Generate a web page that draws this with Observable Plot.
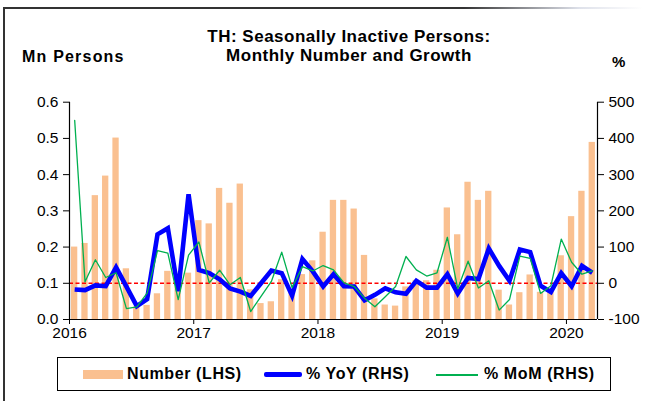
<!DOCTYPE html>
<html>
<head>
<meta charset="utf-8">
<script src="https://cdn.jsdelivr.net/npm/d3@7"></script>
<script src="https://cdn.jsdelivr.net/npm/@observablehq/plot@0.6"></script>
<style>
  html, body { margin: 0; padding: 0; background: #fff; }
  #wrap { position: relative; width: 649px; height: 401px; overflow: hidden; font-family: "Liberation Sans", Arial, sans-serif; color: #000; }
  #wrap svg.plot { position: absolute; left: 0; top: 0; }
  .t { position: absolute; white-space: nowrap; font-weight: bold; }
  #frameL { position: absolute; left: 3px; top: 7px; width: 2px; height: 400px; background: #333; }
  #frameT { position: absolute; left: 3px; top: 7px; width: 640px; height: 2px; background: linear-gradient(to right, #333 0%, #333 72%, rgba(200,205,220,0.6) 90%, rgba(255,255,255,0) 100%); }
  #legend { position: absolute; left: 57px; top: 357px; width: 554px; height: 34px; border: 1px solid #000; box-sizing: border-box; }
  .lt { position: absolute; top: 7px; font-size: 16px; font-weight: bold; letter-spacing: 0.6px; white-space: nowrap; }
</style>
</head>
<body>
<div id="wrap">
  <div id="frameL"></div>
  <div id="frameT"></div>
  <div class="t" style="left:0;width:698px;text-align:center;top:27px;font-size:17px;letter-spacing:0.5px;line-height:19px;">TH: Seasonally Inactive Persons:<br>Monthly Number and Growth</div>
  <div class="t" style="left:22px;top:48px;font-size:16px;letter-spacing:1.2px;">Mn Persons</div>
  <div class="t" style="left:612px;top:53px;font-size:15px;">%</div>
  <div id="legend">
    <div style="position:absolute;left:25px;top:12px;width:40px;height:9px;background:#FAC090;"></div>
    <div class="lt" style="left:69px;">Number (LHS)</div>
    <div style="position:absolute;left:206px;top:14px;width:38px;height:5px;background:#0000FF;border-radius:2px;"></div>
    <div class="lt" style="left:248px;">% YoY (RHS)</div>
    <div style="position:absolute;left:378px;top:16px;width:42px;height:1.5px;background:#00B050;"></div>
    <div class="lt" style="left:426px;">% MoM (RHS)</div>
  </div>
</div>
<script>
// Monthly data, Jan 2016 .. Mar 2020
const yearLabels = ["2016", "2017", "2018", "2019", "2020"];
const number = [
  0.200, 0.210, 0.342, 0.396, 0.501, 0.140, 0.034, 0.039, 0.071, 0.133, 0.090, 0.128,
  0.273, 0.264, 0.362, 0.321, 0.374, 0.082, 0.044, 0.049, 0.110, 0.080, 0.124, 0.162,
  0.241, 0.329, 0.329, 0.305, 0.177, 0.057, 0.040, 0.037, 0.090, 0.108, 0.107, 0.136,
  0.308, 0.234, 0.379, 0.329, 0.354, 0.081, 0.040, 0.074, 0.123, 0.075, 0.080, 0.176,
  0.284, 0.354, 0.489
];
const yoy = [
  -17, -19, -6, -8, 44, -9, -63, -44, 135, 152, -22, 246,
  37, 28, 11, -14, -23, -35, 0, 35, 28, -34, 67, 33,
  -9, 25, -8, -9, -47, -32, -14, -25, -29, 7, -12, -12,
  25, -28, 15, 12, 96, 48, 7, 93, 86, -7, -24, 28,
  -8, 48, 29
];
const mom = [
  450, 4, 65, 16, 29, -70, -65, -27, 90, 83, -45, 78,
  114, 1, 36, -4, 16, -78, -36, 5, 86, -12, 46, 34,
  49, 37, 2, -9, -41, -65, -37, -9, 74, 37, 20, 29,
  127, -15, 61, -13, 7, -74, -45, 75, 69, -28, -7, 122,
  58, 25, 34
];
const lhsTicks = [0, 0.1, 0.2, 0.3, 0.4, 0.5, 0.6];
const rhsTicks = [-100, 0, 100, 200, 300, 400, 500];

const data = number.map((v, i) => ({i, num: v, yoy: yoy[i], mom: mom[i]}));
// RHS (-100..500) mapped onto LHS (0..0.6)
const toL = r => (r + 100) / 1000;

const chart = Plot.plot({
  width: 649,
  height: 401,
  marginTop: 101.7,
  marginBottom: 82,
  marginLeft: 69,
  marginRight: 52,
  style: {fontFamily: "'Liberation Sans', Arial, sans-serif", fontSize: "15.5px", color: "#000", background: "transparent", overflow: "visible"},
  x: {domain: [0, number.length], axis: null},
  y: {domain: [0, 0.6], axis: null},
  marks: [
    Plot.rectY(data, {x1: d => d.i + 0.19, x2: d => d.i + 0.8, y1: 0, y2: "num", fill: "#FAC090"}),
    Plot.ruleY([0.1], {stroke: "#FF0000", strokeWidth: 1.4, strokeDasharray: "4,2.5"}),
    Plot.line(data, {x: d => d.i + 0.5, y: d => toL(d.yoy), stroke: "#0000FF", strokeWidth: 4.6, strokeLinejoin: "miter", strokeMiterlimit: 3, strokeLinecap: "butt"}),
    Plot.line(data, {x: d => d.i + 0.5, y: d => toL(d.mom), stroke: "#00B050", strokeWidth: 1.3}),
    Plot.ruleX([0], {stroke: "#000", strokeWidth: 1.2}),
    Plot.ruleX([number.length], {stroke: "#000", strokeWidth: 1.2}),
    Plot.ruleY([0], {stroke: "#000", strokeWidth: 1.2}),
    Plot.axisY({anchor: "left", ticks: lhsTicks, tickFormat: d3.format(".1f"), tickSize: 6, tickPadding: 5, label: null}),
    Plot.axisY({anchor: "right", ticks: rhsTicks.map(toL), tickFormat: d => String(Math.round(d * 1000 - 100)), tickSize: 6, tickPadding: 5, label: null}),
    Plot.axisX({anchor: "bottom", ticks: yearLabels.map((_, k) => k * 12), tickFormat: d => yearLabels[Math.round(d / 12)], tickSize: 5, tickPadding: 2, label: null})
  ]
});
chart.classList.add("plot");
document.getElementById("wrap").appendChild(chart);
</script>
</body>
</html>
